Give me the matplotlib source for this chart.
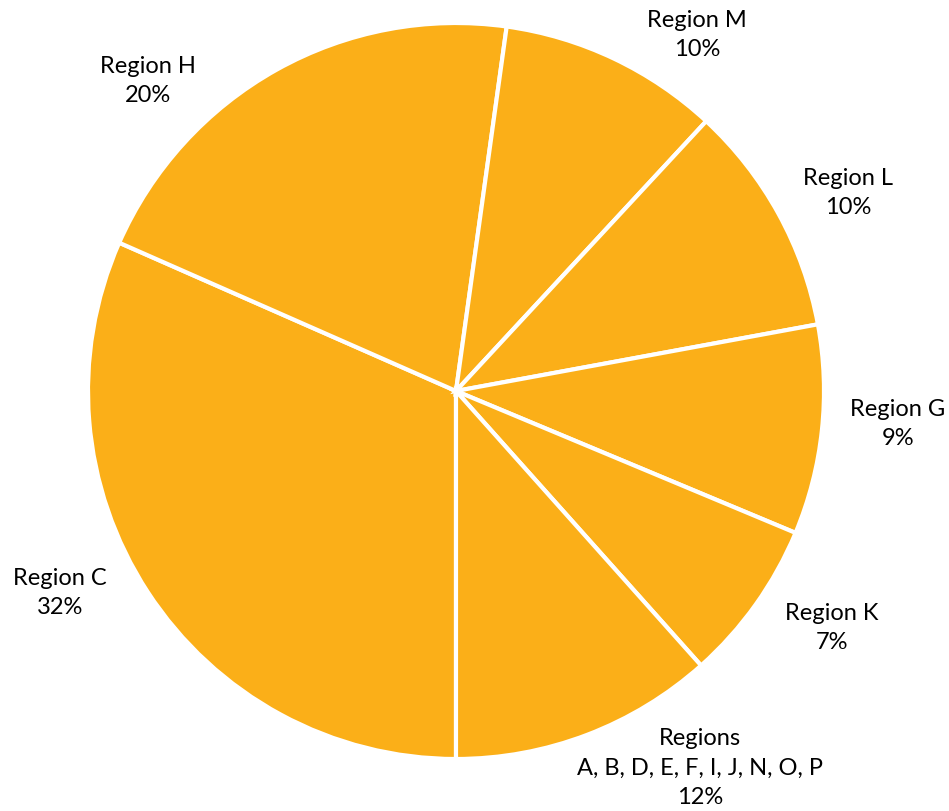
import matplotlib.pyplot as plt

# slices clockwise, starting at 6 o'clock
regions = ['Region C', 'Region H', 'Region M', 'Region L', 'Region G', 'Region K',
           'Regions\nA, B, D, E, F, I, J, N, O, P']
shares = [31.6, 20.6, 9.7, 10.2, 9.2, 7.1, 11.6]
shown_pct = ['32%', '20%', '10%', '10%', '9%', '7%', '12%']

# label centres in pie-radius units
label_xy = [(-1.076, -0.546), (-0.837, 0.845), (0.655, 0.970), (1.065, 0.541),
            (1.201, -0.087), (1.022, -0.641), (0.663, -1.022)]

plt.rcParams['font.family'] = ['Lato', 'DejaVu Sans']

fig = plt.figure(figsize=(9.49, 8.12), dpi=100)
ax = fig.add_axes([0, 0, 1, 1])

ax.pie(shares, startangle=-90, counterclock=False, colors=['#FBAF18'] * len(shares),
       wedgeprops=dict(edgecolor='white', linewidth=3))

for name, pct, (x, y) in zip(regions, shown_pct, label_xy):
    ax.text(x, y, f'{name}\n{pct}', ha='center', va='center', fontsize=17,
            color='black', linespacing=1.5)

ax.set_xlim(-456 / 368, (949 - 456) / 368)
ax.set_ylim(-(812 - 392) / 368, 392 / 368)
ax.set_aspect('auto')
ax.axis('off')

fig.savefig('out.png', dpi=100)
